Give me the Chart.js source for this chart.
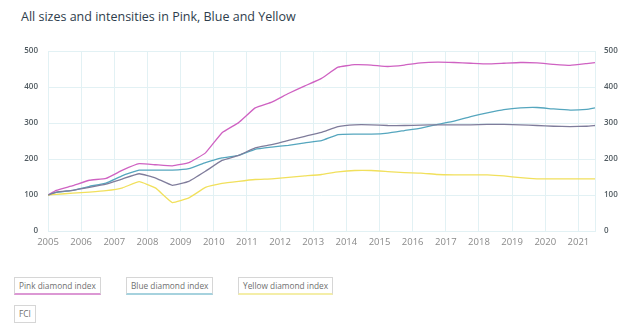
<!DOCTYPE html>
<html>
<head>
<meta charset="utf-8">
<script src="https://cdn.jsdelivr.net/npm/chart.js@4"></script>
<style>
  body { margin: 0; width: 643px; height: 333px; background: #fff; font-family: "Open Sans", sans-serif; overflow: hidden; position: relative; }
  #titulo { position: absolute; left: 21px; top: 8px; font-size: 12.5px; color: #2e3d4c; }
  #wrap { position: absolute; left: 0; top: 0; width: 643px; height: 260px; }
  .leg { position: absolute; height: 18px; line-height: 16px; box-sizing: border-box; border: 1px solid #d6d6d6; padding: 0 4px; font-size: 8.3px; color: #6f6f6f; white-space: nowrap; }
</style>
</head>
<body>
<div id="titulo">All sizes and intensities in Pink, Blue and Yellow</div>
<div id="wrap"><canvas id="grafico" width="643" height="260"></canvas></div>
<div class="leg" style="left:14px; top:277px; border-bottom:2px solid #dc98d4">Pink diamond index</div>
<div class="leg" style="left:126px; top:277px; border-bottom:2px solid #a6d2de">Blue diamond index</div>
<div class="leg" style="left:238px; top:277px; border-bottom:2px solid #f4eea8">Yellow diamond index</div>
<div class="leg" style="left:14px; top:305px">FCI</div>
<script>
// =====================================================
// DADOS
// =====================================================
const anos = [2005, 2005.25, 2005.75, 2006.25, 2006.75, 2007.25, 2007.75, 2008.25, 2008.75, 2009.25,
  2009.75, 2010.25, 2010.75, 2011.25, 2011.75, 2012.25, 2012.75, 2013.25, 2013.75, 2014.25,
  2014.75, 2015.25, 2015.75, 2016.25, 2016.75, 2017.25, 2017.75, 2018.25, 2018.75, 2019.25,
  2019.75, 2020.25, 2020.75, 2021.25, 2021.5];

const pink = [100, 113, 126, 141, 146, 169, 187, 184, 181, 190,
  217, 273, 301, 342, 358, 382, 403, 424, 455, 462,
  461, 457, 461, 467, 469, 468, 466, 464, 466, 468,
  467, 463, 460, 465, 468];

const blue = [100, 107, 113, 124, 133, 154, 169, 169, 169, 173,
  190, 203, 210, 227, 233, 238, 245, 251, 268, 269,
  269, 272, 279, 286, 296, 305, 318, 328, 337, 342,
  343, 339, 336, 338, 342];

const yellow = [100, 102, 105, 108, 112, 120, 137, 119, 79, 92,
  121, 132, 138, 143, 145, 149, 153, 157, 164, 168,
  168, 165, 162, 161, 157, 156, 156, 156, 153, 148,
  145, 145, 145, 145, 145];

const fci = [100, 108, 113, 121, 130, 145, 159, 147, 127, 138,
  166, 196, 210, 231, 240, 252, 263, 274, 290, 295,
  295, 293, 293, 294, 295, 295, 295, 296, 296, 295,
  293, 291, 290, 291, 293];

const yTicks = [0, 100, 200, 300, 400, 500];

const corGrid = "#e2f1f4";

function serie(valores) {
  return anos.map((a, i) => ({ x: a, y: valores[i] }));
}

function linha(label, valores, cor) {
  return {
    label,
    data: serie(valores),
    borderColor: cor,
    borderWidth: 1.3,
    pointRadius: 0,
    tension: 0.1,
    fill: false,
    yAxisID: "y"
  };
}

const fonteY = { family: "Open Sans", size: 8, weight: "600" };

new Chart(document.getElementById("grafico"), {
  type: "line",
  data: {
    datasets: [
      linha("FCI", fci, "#7f7c9b"),
      linha("Yellow diamond index", yellow, "#f1e05c"),
      linha("Blue diamond index", blue, "#55a6be"),
      linha("Pink diamond index", pink, "#cf62c2")
    ]
  },
  options: {
    responsive: false,
    animation: false,
    devicePixelRatio: 1,
    layout: { padding: { top: 51, left: 0, right: 0, bottom: 0 } },
    plugins: { legend: { display: false }, tooltip: { enabled: false } },
    scales: {
      x: {
        type: "linear",
        min: 2005,
        max: 2021.5,
        afterFit: s => { s.height = 29; },
        grid: { color: corGrid, drawTicks: false },
        border: { display: false },
        ticks: {
          stepSize: 1,
          includeBounds: false,
          padding: 6,
          color: "#8a8a8a",
          font: { family: "Open Sans", size: 9.5 },
          maxRotation: 0,
          callback: v => String(v)
        }
      },
      y: {
        position: "left",
        min: 0,
        max: 500,
        afterFit: s => { s.width = 48; },
        afterBuildTicks: s => { s.ticks = yTicks.map(v => ({ value: v })); },
        grid: { color: corGrid, drawTicks: false },
        border: { display: false },
        ticks: { padding: 10, color: "#505a60", font: fonteY }
      },
      y2: {
        position: "right",
        min: 0,
        max: 500,
        afterFit: s => { s.width = 48; },
        afterBuildTicks: s => { s.ticks = yTicks.map(v => ({ value: v })); },
        grid: { display: false, drawTicks: false },
        border: { display: true, color: corGrid },
        ticks: { padding: 9, color: "#505a60", font: fonteY }
      }
    }
  }
});
</script>
</body>
</html>
